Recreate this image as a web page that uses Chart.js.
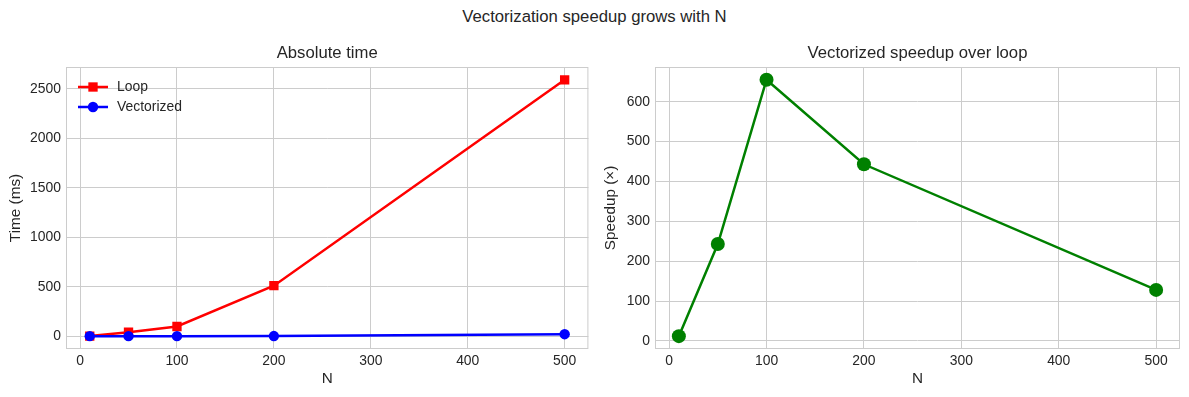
<!DOCTYPE html>
<html>
<head>
<meta charset="utf-8">
<script src="https://cdn.jsdelivr.net/npm/chart.js@4.4.0/dist/chart.umd.min.js"></script>
<style>
    body { margin: 0; background: #fff; width: 1189px; height: 397px; position: relative; overflow: hidden;
           font-family: "Liberation Sans", Arial, sans-serif; }
    #suptitle { position: absolute; left: 0; top: 7px; width: 1189px; text-align: center;
                font-size: 16.7px; line-height: 20px; color: #262626; }
    .box { position: absolute; top: 30px; }
</style>
</head>
<body>
<div id="suptitle">Vectorization speedup grows with N</div>
<div class="box" style="left:0px"><canvas id="timeChart" width="595" height="367"></canvas></div>
<div class="box" style="left:595px"><canvas id="speedChart" width="594" height="367"></canvas></div>

<script>
// valores
const nValues = [10, 50, 100, 200, 500];
const loopTimes = [1.4, 40, 98, 510, 2590];
const vecTimes = [0.12, 0.16, 0.15, 1.15, 20.2];
const speedups = [12, 243, 655, 443, 128];

const xTicks = [0, 100, 200, 300, 400, 500];
const timeTicks = [0, 500, 1000, 1500, 2000, 2500];
const speedTicks = [0, 100, 200, 300, 400, 500, 600];

const FONT = '"Liberation Sans", Arial, sans-serif';
const TEXT = '#262626';
const GRID = '#cccccc';

Chart.defaults.font.family = FONT;
Chart.defaults.color = TEXT;

function pontos(xs, ys) {
    return xs.map((x, i) => ({ x: x, y: ys[i] }));
}

// moldura cinza em volta da área do gráfico + título do subplot
const molduraPlugin = {
    id: 'moldura',
    afterDraw(chart, args, opts) {
        const { ctx, chartArea: a } = chart;
        ctx.save();
        ctx.strokeStyle = GRID;
        ctx.lineWidth = 1;
        ctx.strokeRect(a.left + 0.5, a.top + 0.5, a.right - a.left - 1, a.bottom - a.top - 1);
        ctx.fillStyle = TEXT;
        ctx.font = '16.7px ' + FONT;
        ctx.textAlign = 'center';
        ctx.textBaseline = 'middle';
        ctx.fillText(opts.titulo, (a.left + a.right) / 2, a.top - 14);
        ctx.restore();
    }
};

// legenda no canto superior esquerdo, com linha + marcador como no matplotlib
const legendaPlugin = {
    id: 'legenda',
    afterDraw(chart, args, opts) {
        if (!opts.itens) return;
        const { ctx, chartArea: a } = chart;
        ctx.save();
        opts.itens.forEach((item, i) => {
            const y = a.top + 20 + i * 20;
            const x0 = a.left + 12;
            ctx.strokeStyle = item.cor;
            ctx.lineWidth = 2.5;
            ctx.beginPath();
            ctx.moveTo(x0, y);
            ctx.lineTo(x0 + 30, y);
            ctx.stroke();
            ctx.fillStyle = item.cor;
            Chart.helpers.drawPoint(ctx, { pointStyle: item.marcador, radius: item.raio, rotation: 0 }, x0 + 15, y);
            ctx.fillStyle = TEXT;
            ctx.font = '13.9px ' + FONT;
            ctx.textAlign = 'left';
            ctx.textBaseline = 'middle';
            ctx.fillText(item.texto, x0 + 39, y);
        });
        ctx.restore();
    }
};

function eixoX(ticks) {
    return {
        type: 'linear', min: -14.5, max: 524.5,
        afterBuildTicks: s => { s.ticks = ticks.map(v => ({ value: v })); },
        afterFit: s => { s.height = 48; s.paddingLeft = 0; s.paddingRight = 0; },
        grid: { color: GRID, drawTicks: false },
        border: { display: false },
        ticks: { padding: 4, font: { size: 13.9 }, color: TEXT, maxRotation: 0, callback: v => String(v) },
        title: { display: true, text: 'N', font: { size: 15.3 }, color: TEXT, padding: { top: 0, bottom: 9 } }
    };
}

function eixoY(ticks, min, max, rotulo, largura) {
    return {
        type: 'linear', min: min, max: max,
        afterBuildTicks: s => { s.ticks = ticks.map(v => ({ value: v })); },
        afterFit: s => { s.width = largura; s.paddingTop = 0; s.paddingBottom = 0; },
        grid: { color: GRID, drawTicks: false },
        border: { display: false },
        ticks: { padding: 5, font: { size: 13.9 }, color: TEXT, callback: v => String(v) },
        title: { display: true, text: rotulo, font: { size: 15.3 }, color: TEXT, padding: { top: 7, bottom: 0 } }
    };
}

new Chart(document.getElementById('timeChart'), {
    type: 'line',
    data: {
        datasets: [
            {
                label: 'Vectorized', data: pontos(nValues, vecTimes),
                borderColor: '#0000ff', backgroundColor: '#0000ff', borderWidth: 2.5,
                pointStyle: 'circle', pointRadius: 5.2, pointBorderWidth: 0, tension: 0
            },
            {
                label: 'Loop', data: pontos(nValues, loopTimes),
                borderColor: '#ff0000', backgroundColor: '#ff0000', borderWidth: 2.5,
                pointStyle: 'rect', pointRadius: 6.6, pointBorderWidth: 0, tension: 0
            }
        ]
    },
    options: {
        responsive: false, animation: false, devicePixelRatio: 1,
        layout: { padding: { left: 0, right: 3, top: 37, bottom: 0 } },
        scales: {
            x: eixoX(xTicks),
            y: eixoY(timeTicks, -129.5, 2719.5, 'Time (ms)', 66)
        },
        plugins: {
            legend: { display: false }, tooltip: { enabled: false },
            moldura: { titulo: 'Absolute time' },
            legenda: { itens: [
                { texto: 'Loop', cor: '#ff0000', marcador: 'rect', raio: 6.6 },
                { texto: 'Vectorized', cor: '#0000ff', marcador: 'circle', raio: 5.2 }
            ] }
        }
    },
    plugins: [molduraPlugin, legendaPlugin]
});

new Chart(document.getElementById('speedChart'), {
    type: 'line',
    data: {
        datasets: [{
            label: 'Speedup', data: pontos(nValues, speedups),
            borderColor: '#008000', backgroundColor: '#008000', borderWidth: 2.5,
            pointStyle: 'circle', pointRadius: 7, pointBorderWidth: 0, tension: 0
        }]
    },
    options: {
        responsive: false, animation: false, devicePixelRatio: 1,
        layout: { padding: { left: 0, right: 9, top: 37, bottom: 0 } },
        scales: {
            x: eixoX(xTicks),
            y: eixoY(speedTicks, -20.2, 687, 'Speedup (×)', 60)
        },
        plugins: {
            legend: { display: false }, tooltip: { enabled: false },
            moldura: { titulo: 'Vectorized speedup over loop' },
            legenda: {}
        }
    },
    plugins: [molduraPlugin, legendaPlugin]
});
</script>
</body>
</html>
